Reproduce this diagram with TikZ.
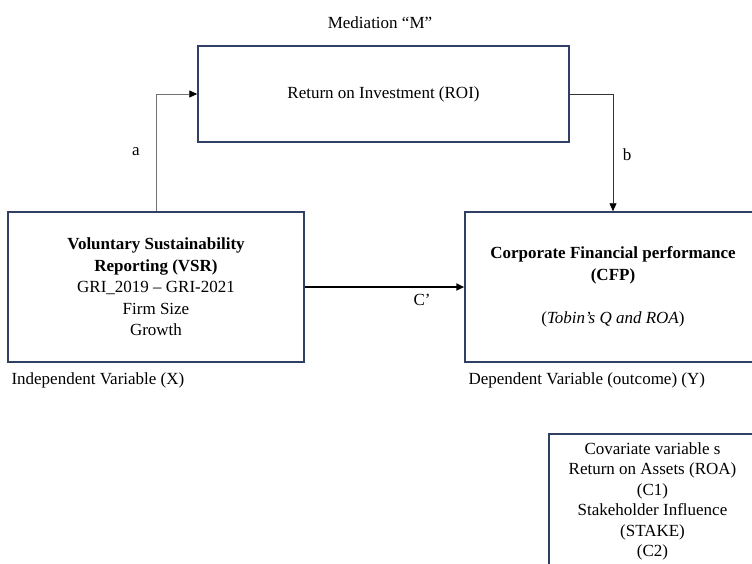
\documentclass[tikz,border=0pt]{standalone}
\usepackage{fontspec}
\setmainfont{Liberation Serif}
\usetikzlibrary{arrows.meta,positioning}
\definecolor{boxblue}{RGB}{47,64,100}
\newcommand{\diagfont}{\fontsize{17}{21.5}\selectfont}
\tikzset{
  varbox/.style={draw=boxblue,line width=1.5pt,align=center,inner sep=0pt},
  link/.style={draw=black!55,line width=0.8pt,-{Triangle[length=8pt,width=7pt,color=black]}},
  direct/.style={line width=2pt,-{Triangle[length=8pt,width=7pt]}}
}

\begin{document}
\begin{tikzpicture}[x=1pt,y=-1pt,font=\diagfont]
\useasboundingbox (0,0) rectangle (752,563);
% the four boxes
\node[varbox,minimum width=371pt,minimum height=96pt] (roi) at (383.5,94) {Return on Investment (ROI)};
\node[varbox,minimum width=296pt,minimum height=150pt] (vsr) at (156,287)
  {\textbf{Voluntary Sustainability}\\\textbf{Reporting (VSR)}\\GRI\_2019 -- GRI-2021\\Firm Size\\Growth};
\node[varbox,minimum width=296pt,minimum height=150pt] (cfp) at (613,287)
  {\textbf{Corporate Financial performance}\\\textbf{(CFP)}\\[21.5pt](\textit{Tobin’s Q and ROA})};
\node[varbox,minimum width=207pt,minimum height=141pt] (cov) at (652.5,504.5) {};
\node[align=center,inner sep=0pt,yshift=3pt,font=\fontsize{17}{20.5}\selectfont] (covtext) at (cov.center)
  {Covariate variable s\\Return on Assets (ROA)\\(C1)\\Stakeholder Influence\\(STAKE)\\(C2)};
% labels
\node (med) at (380,23) {Mediation “M”};
\node (lbla) at (136,152) {a};
\node (lblb) at (627,155) {b};
\node (lblc) at (422,300) {C’};
\node[anchor=west] (indep) at (8,380) {Independent Variable (X)};
\node[anchor=west] (dep) at (465,380) {Dependent Variable (outcome) (Y)};
% paths
\draw[link] (vsr.north) |- (roi.west);
\draw[link,draw=black!80] (roi.east) -| (cfp.north);
\draw[direct] (vsr.east) -- (cfp.west);
\end{tikzpicture}
\end{document}
